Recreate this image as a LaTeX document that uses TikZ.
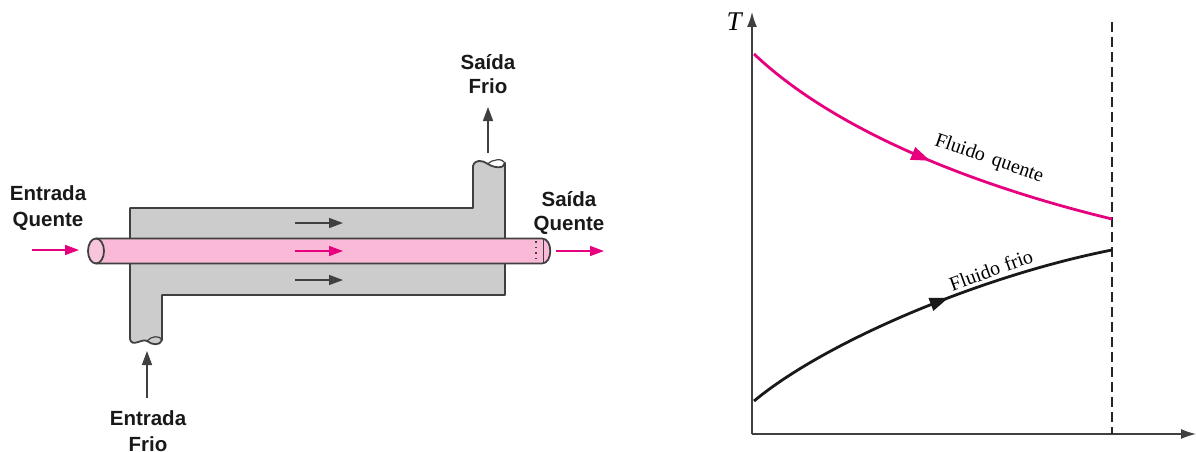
\documentclass[tikz,border=0pt]{standalone}
\usepackage{fontspec}
\setmainfont{Liberation Serif}
\setsansfont{Liberation Sans}
\usepackage{xcolor}
\usetikzlibrary{arrows.meta,decorations.markings,shapes.geometric}
\definecolor{hotline}{HTML}{E6007E}
\definecolor{tubepink}{HTML}{FBB9D8}
\definecolor{capink}{HTML}{F7C6DD}
\definecolor{shellgray}{HTML}{CCCCCC}
\definecolor{edgegray}{HTML}{404040}

\begin{document}
\begin{tikzpicture}[
  x=1pt, y=-1pt,
  lbl/.style={font=\sffamily\bfseries\fontsize{20.5}{#1}\selectfont, align=center, text=black!90},
  lbl/.default=24,
  curvelbl/.style={font=\rmfamily\fontsize{20}{22}\selectfont},
  wall/.style={draw=edgegray, line width=1.8pt, line join=round},
  blackarr/.style={draw=black!75, line width=1.5pt, -{Triangle[length=14pt,width=10pt]}},
  pinkarr/.style={draw=hotline, line width=1.5pt, -{Triangle[length=14pt,width=10pt]}},
  axisline/.style={draw=black!75, line width=1.4pt, -{Latex[length=15pt,width=10pt]}},
  midarrow/.style args={#1 at #2}{postaction={decorate, decoration={markings,
      mark=at position #2 with {\arrow{Triangle[length=19pt,width=13pt,#1]}}}}}
]
\useasboundingbox (0,0) rectangle (1196,452);

% trocador
\path[wall, fill=shellgray] (130,208) -- (473,208) -- (473,166)
  .. controls (475,159) and (482,160) .. (488,164)
  .. controls (494,168) and (504,169) .. (505,163)
  -- (505,295) -- (162,295) -- (162,340)
  .. controls (160,346) and (152,345) .. (147,341)
  .. controls (142,338) and (132,348) .. (130,339) -- cycle;
\draw[wall, line width=1.2pt] (505,163) .. controls (503,158) and (492,159) .. (488,164);
\draw[wall, line width=1.2pt] (162,340) .. controls (160,335) and (151,336) .. (147,341);

% tubo
\path[wall, fill=tubepink] (96,238.5) -- (542,238.5)
  .. controls (553,238.5) and (553,263.5) .. (542,263.5) -- (96,263.5) -- cycle;
\node[wall, fill=capink, ellipse, minimum width=16pt, minimum height=25pt, inner sep=0pt] (tubecap) at (96,251) {};
\draw[draw=edgegray, line width=.4pt] (543,240) -- (543,262);
\draw[draw=edgegray, line width=1.2pt, dash pattern=on 1.5pt off 4pt] (536,241) -- (536,262);

% setas
\coordinate (hotin0) at (32,250);   \coordinate (hotin1) at (79,250);
\coordinate (hotout0) at (556,251); \coordinate (hotout1) at (604,251);
\coordinate (coldin0) at (147,398); \coordinate (coldin1) at (147,351);
\coordinate (coldout0) at (488,153); \coordinate (coldout1) at (488,107);
\coordinate (shella0) at (295,223); \coordinate (shella1) at (343,223);
\coordinate (shellb0) at (295,280); \coordinate (shellb1) at (343,280);
\coordinate (tubea0) at (295,251);  \coordinate (tubea1) at (343,251);

\draw[pinkarr] (hotin0) -- (hotin1);
\draw[pinkarr] (hotout0) -- (hotout1);
\draw[pinkarr] (tubea0) -- (tubea1);
\draw[blackarr] (coldin0) -- (coldin1);
\draw[blackarr] (coldout0) -- (coldout1);
\draw[blackarr] (shella0) -- (shella1);
\draw[blackarr] (shellb0) -- (shellb1);

\node[lbl=26] (entq) at (48,208) {Entrada\\Quente};
\node[lbl] (saiq) at (569,213) {Saída\\Quente};
\node[lbl=26] (entf) at (148,431.5) {Entrada\\Frio};
\node[lbl] (saif) at (488,74) {Saída\\Frio};

% grafico
\coordinate (orig) at (752,434);
\coordinate (ytop) at (752,12);
\coordinate (xend) at (1196,434);
\coordinate (dash0) at (1112,22);
\coordinate (dash1) at (1112,434);

\draw[axisline] (orig) -- (ytop);
\draw[axisline] (orig) -- (xend);
\draw[draw=black!85, line width=1.3pt, dash pattern=on 10pt off 5pt] (dash0) -- (dash1);

\coordinate (hot0) at (754,54);  \coordinate (hot1) at (1112,219);
\coordinate (cold0) at (754,401); \coordinate (cold1) at (1112,250);
\draw[hotline, line width=2.8pt, midarrow={hotline} at 0.52] (hot0)
  .. controls (845,140) and (1000,192) .. (hot1);
\draw[black!90, line width=2.8pt, midarrow={black!90} at 0.565] (cold0)
  .. controls (825,342) and (980,276) .. (cold1);

\node[font=\rmfamily\itshape\fontsize{27}{30}\selectfont] (tlabel) at (734,22) {T};
\node[curvelbl, rotate=-19] (fq) at (989,159) {Fluido\hspace{3pt} quente};
\node[curvelbl, rotate=20] (ff) at (991,270) {Fluido\hspace{1pt} frio};
\end{tikzpicture}
\end{document}
